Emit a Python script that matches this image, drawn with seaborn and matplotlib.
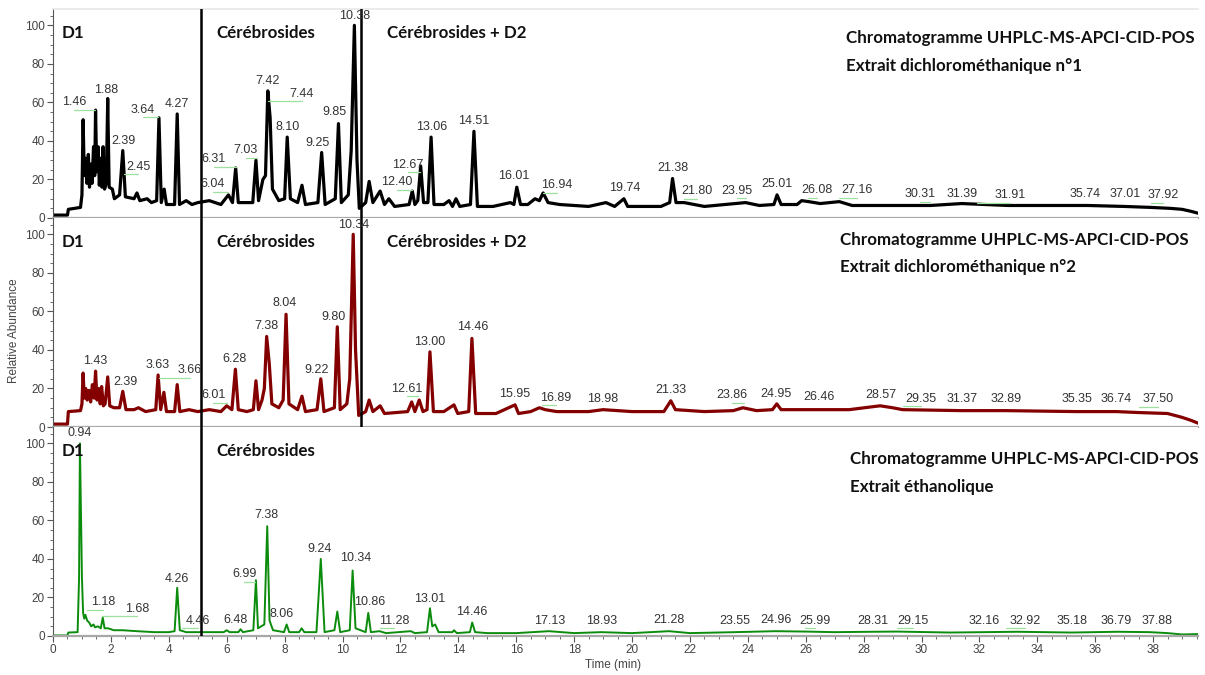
import matplotlib.pyplot as plt
import pandas as pd
import seaborn as sns
from matplotlib.ticker import MultipleLocator

# Chromatogram traces (time in min, relative abundance in %)
trace_dcm1 = [
    (0.00, 1.5), (0.50, 1.5), (0.53, 4.5), (0.95, 5.5),
    (1.00, 12), (1.04, 51), (1.08, 22), (1.13, 31), (1.17, 18), (1.22, 33), (1.26, 16),
    (1.31, 28), (1.35, 18), (1.40, 37), (1.44, 22), (1.47, 56), (1.51, 24), (1.56, 37),
    (1.60, 17), (1.65, 31), (1.69, 16), (1.73, 37), (1.78, 15), (1.84, 18), (1.89, 62),
    (1.94, 16), (2.05, 15), (2.12, 10), (2.30, 12), (2.41, 35), (2.50, 11), (2.80, 10),
    (2.90, 13), (3.00, 9), (3.25, 10), (3.40, 8), (3.58, 9), (3.66, 52), (3.74, 8),
    (3.84, 15), (3.92, 7), (4.20, 7), (4.29, 54), (4.37, 7), (4.60, 9), (4.80, 7),
    (5.00, 8), (5.40, 9), (5.80, 7), (6.06, 12), (6.20, 8), (6.31, 26), (6.40, 8),
    (6.60, 8), (6.90, 8), (7.01, 30), (7.10, 9), (7.25, 20), (7.34, 22), (7.42, 66),
    (7.50, 52), (7.58, 15), (7.80, 9), (8.00, 10), (8.09, 42), (8.20, 10), (8.45, 8),
    (8.60, 17), (8.72, 7), (9.15, 8), (9.28, 34), (9.40, 7), (9.75, 10), (9.86, 49),
    (9.96, 8), (10.20, 12), (10.30, 35), (10.41, 100), (10.50, 30), (10.58, 5),
    (10.80, 8), (10.92, 19), (11.05, 8), (11.30, 14), (11.45, 7), (11.60, 10),
    (11.80, 6), (12.30, 7), (12.41, 14), (12.50, 7), (12.60, 9), (12.70, 27),
    (12.80, 8), (12.95, 8), (13.06, 42), (13.16, 7), (13.50, 7), (13.68, 9),
    (13.80, 6), (13.92, 10), (14.05, 6), (14.42, 7), (14.54, 45), (14.66, 6),
    (15.20, 6), (15.80, 8), (15.92, 7), (16.02, 16), (16.15, 7), (16.40, 7),
    (16.65, 10), (16.80, 9), (16.93, 13), (17.10, 8), (17.50, 7), (18.50, 6),
    (19.10, 8), (19.40, 6), (19.72, 10), (19.85, 6), (21.00, 6), (21.30, 8),
    (21.40, 20.5), (21.52, 8), (21.80, 8), (22.50, 6), (23.92, 8), (24.40, 6.5),
    (24.90, 7), (25.01, 12), (25.15, 7), (25.70, 7), (25.86, 9), (26.10, 8.5),
    (26.50, 7.5), (27.16, 8.5), (27.60, 6.5), (30.31, 6.5), (31.39, 7.5), (33.00, 6.5),
    (35.74, 6.5), (37.00, 6), (37.92, 5.5), (38.60, 5), (39.00, 4.5), (39.30, 3.5),
    (39.55, 2.5),
]

trace_dcm2 = [
    (0.00, 1.5), (0.50, 1.5), (0.53, 8), (0.95, 8.5),
    (1.00, 12), (1.04, 28), (1.08, 15), (1.13, 20), (1.18, 14), (1.24, 19), (1.30, 13),
    (1.36, 22), (1.42, 15), (1.47, 29), (1.52, 14), (1.58, 20), (1.63, 12), (1.68, 21),
    (1.74, 11), (1.80, 12), (1.89, 26), (1.96, 11), (2.10, 10), (2.30, 10), (2.41, 18.5),
    (2.52, 9), (2.80, 9), (2.95, 10), (3.20, 8), (3.55, 9), (3.63, 27), (3.72, 9),
    (3.83, 18), (3.92, 8), (4.20, 8), (4.29, 22), (4.38, 8), (4.70, 9), (5.00, 8),
    (5.40, 9), (5.80, 8), (6.00, 11), (6.18, 9), (6.30, 30), (6.40, 9), (6.70, 8),
    (6.92, 9), (7.01, 24), (7.10, 9), (7.22, 14), (7.30, 20), (7.38, 47), (7.47, 33),
    (7.56, 12), (7.80, 10), (7.95, 14), (8.05, 58.5), (8.15, 12), (8.45, 9), (8.60, 16),
    (8.72, 8), (9.12, 9), (9.25, 25), (9.36, 8), (9.72, 10), (9.82, 52), (9.92, 9),
    (10.15, 12), (10.25, 25), (10.37, 100), (10.45, 40), (10.56, 6), (10.80, 8),
    (10.92, 14), (11.05, 8), (11.30, 11), (11.45, 7), (12.25, 8), (12.39, 13),
    (12.50, 8), (12.65, 14), (12.78, 8), (12.92, 9), (13.02, 39), (13.14, 8),
    (13.50, 8), (13.85, 11.5), (13.98, 7), (14.36, 8), (14.47, 46), (14.60, 7),
    (15.30, 7), (15.96, 11.5), (16.08, 7), (16.50, 8), (16.80, 10), (17.00, 9),
    (17.40, 8), (18.50, 8), (19.00, 9), (20.00, 8), (21.10, 8), (21.34, 13.6),
    (21.50, 9), (22.50, 8), (23.50, 8.5), (23.83, 10), (24.30, 8.5), (24.85, 9),
    (25.00, 12), (25.15, 9), (26.46, 9), (27.50, 9), (28.30, 10.5), (28.57, 11),
    (29.00, 10), (29.35, 9), (31.37, 8.5), (32.89, 8.5), (35.35, 8), (36.74, 8),
    (37.50, 7.5), (38.50, 7), (39.00, 5), (39.30, 3.5), (39.55, 2),
]

trace_etoh = [
    (0.00, 0.3), (0.50, 0.3), (0.53, 1.8), (0.85, 2), (0.90, 30), (0.93, 100),
    (0.97, 60), (1.00, 30), (1.04, 12), (1.08, 9), (1.12, 11), (1.18, 8), (1.25, 7),
    (1.32, 5), (1.40, 6), (1.45, 4.5), (1.55, 5), (1.65, 4), (1.72, 9.5), (1.78, 4),
    (1.90, 4), (2.10, 3), (2.40, 3), (2.90, 2.5), (3.50, 2), (4.00, 2), (4.20, 2.5),
    (4.29, 25), (4.38, 3), (4.60, 2), (5.00, 2), (5.90, 2), (6.00, 3), (6.10, 2),
    (6.40, 2), (6.48, 3.5), (6.56, 2), (6.92, 3), (7.01, 29), (7.08, 4), (7.30, 6),
    (7.40, 57), (7.48, 8), (7.60, 3), (7.98, 2), (8.07, 6), (8.16, 2), (8.50, 2),
    (8.59, 4), (8.68, 2), (9.10, 2), (9.25, 40), (9.38, 2), (9.72, 3), (9.82, 12.7),
    (9.92, 2), (10.25, 3), (10.35, 34), (10.45, 4), (10.80, 2), (10.89, 12),
    (10.98, 2), (11.28, 2.5), (11.50, 1.5), (12.36, 2.5), (12.50, 1.5), (12.92, 2),
    (13.02, 14.4), (13.10, 5), (13.20, 6), (13.32, 2), (13.80, 2), (13.85, 3),
    (13.95, 1.5), (14.40, 2), (14.48, 7), (14.58, 2), (15.00, 1.5), (16.00, 1.5),
    (17.13, 2.5), (18.00, 1.5), (18.93, 2), (20.00, 1.5), (21.28, 2.5), (22.00, 1.5),
    (23.55, 2), (24.96, 2.5), (25.99, 2.3), (27.00, 2), (28.31, 2.2), (29.15, 2.3),
    (31.00, 1.8), (32.16, 2), (33.30, 2.2), (35.18, 1.8), (36.79, 2.2), (37.88, 2),
    (38.50, 1.5), (39.00, 0.8), (39.55, 1),
]

# Peak labels: text, time under the text, abundance of the text bottom
lab1_text = ["1.46", "1.88", "2.39", "2.45", "3.64", "4.27", "6.31", "6.04", "7.03",
             "7.42", "7.44", "8.10", "9.25", "9.85", "10.38", "12.40", "12.67", "13.06",
             "14.51", "16.01", "16.94", "19.74", "21.38", "21.80", "23.95", "25.01",
             "26.08", "27.16", "30.31", "31.39", "31.91", "35.74", "37.01", "37.92"]
lab1_t = [0.72, 1.85, 2.43, 2.95, 3.10, 4.28, 5.55, 5.51, 6.66,
          7.40, 8.60, 8.09, 9.15, 9.72, 10.41, 11.88, 12.26, 13.08,
          14.52, 15.90, 17.40, 19.76, 21.41, 22.23, 23.62, 25.00,
          26.40, 27.76, 29.95, 31.39, 33.06, 35.65, 37.03, 38.35]
lab1_y = [57, 63.5, 37, 23.5, 53, 56, 27.5, 14.5, 32,
          68, 61.5, 44, 35.7, 51.7, 101.7, 15.5, 24.5, 44,
          47, 18.8, 14, 12.4, 23, 10.7, 11, 14.5,
          11.4, 11.4, 9.3, 9.6, 8.8, 9.3, 9.6, 8.8]

lab2_text = ["1.43", "2.39", "3.63", "3.66", "6.01", "6.28", "7.38", "8.04", "9.22",
             "9.80", "10.34", "12.61", "13.00", "14.46", "15.95", "16.89", "18.98",
             "21.33", "23.86", "24.95", "26.46", "28.57", "29.35", "31.37", "32.89",
             "35.35", "36.74", "37.50"]
lab2_t = [1.45, 2.49, 3.62, 4.73, 5.54, 6.26, 7.36, 8.01, 9.11,
          9.68, 10.37, 12.22, 13.02, 14.50, 15.96, 17.37, 19.00,
          21.34, 23.46, 24.97, 26.47, 28.60, 29.97, 31.39, 32.92,
          35.36, 36.74, 38.16]
lab2_y = [31, 20.2, 29.3, 26.3, 13.3, 32, 49.4, 61, 26.7,
          54, 102, 16.8, 41.2, 48.7, 13.8, 12, 11.5,
          15.9, 13.3, 13.8, 12.4, 13.3, 11.5, 11.5, 11.2,
          11.2, 11.5, 11.2]

lab3_text = ["0.94", "1.18", "1.68", "4.26", "4.46", "6.48", "6.99", "7.38", "8.06",
             "9.24", "10.34", "10.86", "11.28", "13.01", "14.46", "17.13", "18.93",
             "21.28", "23.55", "24.96", "25.99", "28.31", "29.15", "32.16", "32.92",
             "35.18", "36.79", "37.88"]
lab3_t = [0.93, 1.74, 2.91, 4.27, 5.02, 6.29, 6.60, 7.36, 7.90,
          9.22, 10.47, 10.95, 11.78, 13.02, 14.48, 17.14, 18.95,
          21.29, 23.56, 24.97, 26.32, 28.31, 29.72, 32.16, 33.58,
          35.19, 36.72, 38.15]
lab3_y = [102.4, 14.4, 11, 26.6, 4.9, 5.2, 29, 59.5, 8.3,
          42, 37.3, 14.4, 4.9, 16.1, 9.2, 4.9, 4.9,
          5.2, 4.9, 5.2, 4.9, 4.9, 4.9, 4.9, 4.9,
          4.9, 4.9, 4.9]

extract_names = ["Extrait dichlorométhanique n°1", "Extrait dichlorométhanique n°2",
                 "Extrait éthanolique"]
trace_colors = ["#000000", "#840000", "#0c8c0c"]

sns.set_theme(style="ticks")
plt.rcParams['font.family'] = ['Liberation Sans', 'DejaVu Sans']

fig = plt.figure(figsize=(12.05, 6.75), dpi=100)
left, width, height = 53 / 1205, 1145 / 1205, 209 / 675
bottoms = [1 - 218 / 675, 1 - 427 / 675, 1 - 636 / 675]
axes = [fig.add_axes([left, b, width, height]) for b in bottoms]

traces = [trace_dcm1, trace_dcm2, trace_etoh]
labels = [(lab1_text, lab1_t, lab1_y), (lab2_text, lab2_t, lab2_y), (lab3_text, lab3_t, lab3_y)]
bold = dict(family=['Lato', 'DejaVu Sans'], fontweight='bold', fontsize=12.2, color='#111111')

for i, ax in enumerate(axes):
    df = pd.DataFrame(traces[i], columns=['time', 'abundance'])
    sns.lineplot(data=df, x='time', y='abundance', color=trace_colors[i],
                 lw=2.3 if i < 2 else 1.4, estimator=None, sort=False, ax=ax)
    ax.set_xlim(0, 39.55)
    ax.set_ylim(0, 108.5)
    ax.set_xlabel('')
    ax.set_ylabel('')
    ax.yaxis.set_major_locator(MultipleLocator(20))
    ax.yaxis.set_minor_locator(MultipleLocator(5))
    ax.xaxis.set_major_locator(MultipleLocator(2))
    ax.xaxis.set_minor_locator(MultipleLocator(0.5))
    ax.set_yticks(range(0, 101, 20))
    ax.tick_params(axis='y', which='major', length=4, width=0.8, color='#555555',
                   labelsize=8.5, labelcolor='#444444', pad=2)
    ax.tick_params(axis='y', which='minor', length=2.5, width=0.6, color='#555555')
    ax.spines['right'].set_visible(False)
    ax.spines['top'].set_color('#e8e8e8')
    ax.spines['top'].set_visible(i == 0)
    ax.spines['left'].set_color('#555555')
    ax.spines['left'].set_linewidth(0.8)
    ax.spines['bottom'].set_color('#a8a8a8')
    ax.spines['bottom'].set_linewidth(1.6)
    if i < 2:
        ax.tick_params(axis='x', which='both', length=0, labelbottom=False)
    else:
        ax.tick_params(axis='x', which='major', length=4, width=0.8, color='#555555',
                       labelsize=8.5, labelcolor='#444444', pad=2)
        ax.tick_params(axis='x', which='minor', length=2.5, width=0.6, color='#555555')

    # peak labels with green leader lines when shifted away from the peak
    for txt, t, y in zip(*labels[i]):
        ax.text(t, y, txt, ha='center', va='bottom', fontsize=9, color='#333333',
                clip_on=False, zorder=4)
        peak = float(txt)
        if abs(peak - t) > 0.3:
            ax.plot([peak, t], [y - 0.8, y - 0.8], color='#9ee09e', lw=0.9, zorder=2)

    # region separators
    ax.axvline(5.11, color='black', lw=1.8, zorder=3)
    if i < 2:
        ax.axvline(10.64, color='black', lw=1.8, zorder=3)

    ax.text(0.31, 96, "D1", va='center', ha='left', **bold)
    ax.text(5.63, 96, "Cérébrosides", va='center', ha='left', **bold)
    if i < 2:
        ax.text(11.54, 96, "Cérébrosides + D2", va='center', ha='left', **bold)

axes[0].text(27.39, 93.3, "Chromatogramme UHPLC-MS-APCI-CID-POS", va='center', **bold)
axes[0].text(27.39, 78.8, extract_names[0], va='center', **bold)
axes[1].text(27.18, 96.9, "Chromatogramme UHPLC-MS-APCI-CID-POS", va='center', **bold)
axes[1].text(27.18, 83.2, extract_names[1], va='center', **bold)
axes[2].text(27.53, 91.7, "Chromatogramme UHPLC-MS-APCI-CID-POS", va='center', **bold)
axes[2].text(27.53, 77.6, extract_names[2], va='center', **bold)

axes[1].set_ylabel("Relative Abundance", fontsize=8.5, color='#444444')
axes[1].yaxis.set_label_coords(-0.029, 0.46)
axes[2].set_xlabel("Time (min)", fontsize=8.5, color='#444444')
axes[2].xaxis.set_label_coords(0.489, -0.11)

fig.savefig("out.png", dpi=100)
